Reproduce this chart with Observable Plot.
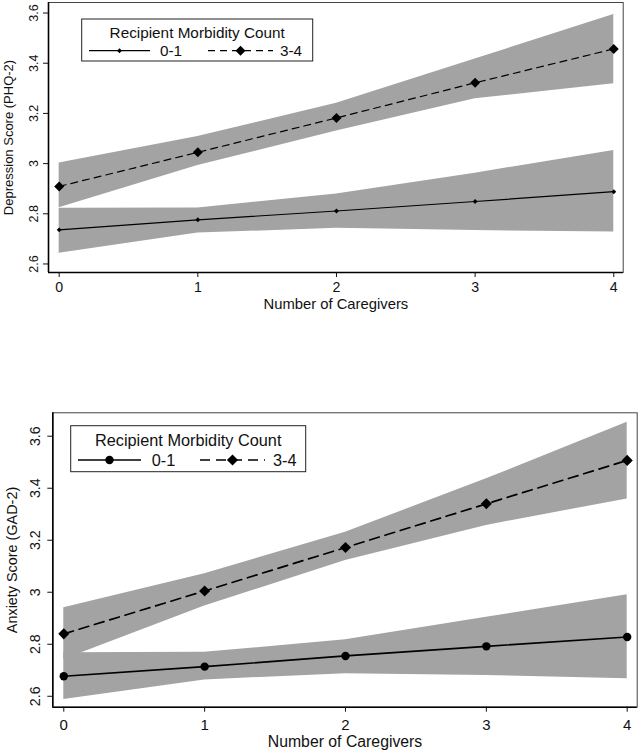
<!DOCTYPE html>
<html><head><meta charset="utf-8">
<script src="https://cdn.jsdelivr.net/npm/d3@7"></script>
<script src="https://cdn.jsdelivr.net/npm/@observablehq/plot@0.6"></script>
<style>
body{margin:0;background:#fff;}
#wrap{position:relative;width:640px;height:750px;overflow:hidden;background:#fff;}
#wrap > svg{position:absolute;left:0;}
</style></head><body><div id="wrap"></div>
<script>
// ---- data ----
const caregivers = [0, 1, 2, 3, 4];
const groups = ["0-1", "3-4"];
const legendTitle = "Recipient Morbidity Count";
const xLabel = "Number of Caregivers";
const yTicks = [2.6, 2.8, 3.0, 3.2, 3.4, 3.6];
const xTicks = [0, 1, 2, 3, 4];

// Depression (PHQ-2)
const phqLabel = "Depression Score (PHQ-2)";
const phqLow    = [2.736, 2.776, 2.811, 2.849, 2.888];
const phqLowLo  = [2.643, 2.723, 2.742, 2.733, 2.727];
const phqLowHi  = [2.822, 2.823, 2.879, 2.962, 3.052];
const phqHigh   = [2.909, 3.045, 3.182, 3.322, 3.457];
const phqHighLo = [2.824, 2.992, 3.130, 3.258, 3.318];
const phqHighHi = [3.002, 3.108, 3.240, 3.417, 3.594];

// Anxiety (GAD-2)
const gadLabel = "Anxiety Score (GAD-2)";
const gadLow    = [2.677, 2.714, 2.755, 2.792, 2.828];
const gadLowLo  = [2.588, 2.663, 2.687, 2.680, 2.667];
const gadLowHi  = [2.767, 2.769, 2.817, 2.904, 2.990];
const gadHigh   = [2.840, 3.005, 3.172, 3.340, 3.507];
const gadHighLo = [2.741, 2.947, 3.122, 3.257, 3.359];
const gadHighHi = [2.940, 3.071, 3.231, 3.436, 3.654];

const rows = (m, lo, hi, g) => caregivers.map((c, i) => ({x: c, y: m[i], lo: lo[i], hi: hi[i], group: g}));

const FONT = "'Liberation Sans', Arial, Helvetica, sans-serif";
const BAND = "#a3a3a3";
const INK = "#111";
const fmt = d => String(+d.toFixed(1));

function panel(cfg) {
  const low = rows(...cfg.low, groups[0]);
  const high = rows(...cfg.high, groups[1]);
  const [x0] = cfg.xDomain, [y0] = cfg.yDomain;
  const svg = Plot.plot({
    width: 640, height: cfg.height,
    marginLeft: cfg.ml, marginRight: cfg.mr, marginTop: cfg.mt, marginBottom: cfg.mb,
    style: {fontFamily: FONT, fontSize: "13px", color: INK, background: "white", overflow: "visible"},
    x: {domain: cfg.xDomain},
    y: {domain: cfg.yDomain},
    marks: [
      Plot.areaY(high, {x: "x", y1: "lo", y2: "hi", fill: BAND}),
      Plot.areaY(low, {x: "x", y1: "lo", y2: "hi", fill: BAND}),
      Plot.frame({stroke: "#444", strokeWidth: 1}),
      Plot.ruleX([x0], {stroke: "#000", strokeWidth: 1.6}),
      Plot.ruleY([y0], {stroke: "#000", strokeWidth: 1.6}),
      Plot.line(low, {x: "x", y: "y", stroke: "#000", strokeWidth: cfg.lw}),
      Plot.line(high, {x: "x", y: "y", stroke: "#000", strokeWidth: cfg.lw, strokeDasharray: cfg.dash}),
      Plot.dot(low, {x: "x", y: "y", symbol: cfg.lowSym, r: cfg.lowR, fill: "#000", stroke: "none"}),
      Plot.dot(high, {x: "x", y: "y", symbol: "diamond2", r: cfg.highR, fill: "#000", stroke: "none"}),
      Plot.axisX({ticks: xTicks, tickSize: 5, tickPadding: cfg.xPad, tickFormat: d => String(d),
        label: null, fontSize: cfg.fsXTick, fill: INK}),
      Plot.axisY({ticks: yTicks, tickSize: 5, tickPadding: cfg.yPad, tickRotate: -90, textAnchor: "middle",
        lineAnchor: "middle", tickFormat: fmt, label: null, fontSize: cfg.fsYTick, fill: INK}),
      Plot.text([xLabel], {text: d => d, frameAnchor: "bottom", textAnchor: "middle", lineAnchor: "middle",
        dy: cfg.xLabOff, fontSize: cfg.fsXLab, fill: INK}),
      Plot.text([cfg.ylabel], {text: d => d, frameAnchor: "left", rotate: -90, textAnchor: "middle",
        lineAnchor: "top", dx: -cfg.yLabOff, fontSize: cfg.fsYLab, fill: INK})
    ]
  });
  svg.style.top = cfg.top + "px";
  // legend
  const L = cfg.legend;
  const g = d3.select(svg).append("g").attr("font-family", FONT).style("font-size", cfg.fsLeg + "px");
  g.append("rect").attr("x", L.x).attr("y", L.y).attr("width", L.w).attr("height", L.h)
    .attr("fill", "white").attr("stroke", "#222").attr("stroke-width", 1);
  g.append("text").attr("x", L.x + L.w / 2).attr("y", L.titleY).attr("text-anchor", "middle")
    .attr("fill", INK).text(legendTitle);
  // entry 1
  g.append("line").attr("x1", L.l1[0]).attr("x2", L.l1[1]).attr("y1", L.rowY).attr("y2", L.rowY)
    .attr("stroke", "#000").attr("stroke-width", cfg.lw);
  const sym1 = cfg.lowSym === "circle" ? d3.symbolCircle : d3.symbolDiamond2;
  g.append("path").attr("d", d3.symbol(sym1, Math.PI * cfg.lowR * cfg.lowR)())
    .attr("transform", `translate(${(L.l1[0] + L.l1[1]) / 2},${L.rowY})`).attr("fill", "#000");
  g.append("text").attr("x", L.t1).attr("y", L.rowY).attr("dy", "0.36em").attr("text-anchor", "start")
    .attr("fill", INK).text(groups[0]);
  // entry 2
  g.append("line").attr("x1", L.l2[0]).attr("x2", L.l2[1]).attr("y1", L.rowY).attr("y2", L.rowY)
    .attr("stroke", "#000").attr("stroke-width", cfg.lw).attr("stroke-dasharray", cfg.dash);
  g.append("path").attr("d", d3.symbol(d3.symbolDiamond2, Math.PI * cfg.highR * cfg.highR)())
    .attr("transform", `translate(${(L.l2[0] + L.l2[1]) / 2},${L.rowY})`).attr("fill", "#000");
  g.append("text").attr("x", L.t2).attr("y", L.rowY).attr("dy", "0.36em").attr("text-anchor", "start")
    .attr("fill", INK).text(groups[1]);
  return svg;
}

const wrap = document.getElementById("wrap");
wrap.appendChild(panel({
  top: 0, height: 330, ml: 48, mr: 17.3, mt: 2, mb: 58,
  xDomain: [-0.077, 4.068], yDomain: [2.566, 3.642],
  low: [phqLow, phqLowLo, phqLowHi], high: [phqHigh, phqHighLo, phqHighHi],
  ylabel: phqLabel, lw: 1.2, dash: "7,5",
  fsXTick: 14.2, fsYTick: 12.5, fsXLab: 14.8, fsYLab: 13, fsLeg: 15.3,
  lowSym: "diamond2", lowR: 2.2, highR: 4.5,
  xPad: 4, yPad: 10, xLabOff: 31.5, yLabOff: 45,
  legend: {x: 81.7, y: 19, w: 231, h: 42, titleY: 37.5, rowY: 50.7, l1: [89, 150], t1: 160, l2: [208, 273], t2: 280}
}));
wrap.appendChild(panel({
  top: 380, height: 370, ml: 52.3, mr: 3.3, mt: 32.3, mb: 43.3,
  xDomain: [-0.078, 4.071], yDomain: [2.558, 3.69],
  low: [gadLow, gadLowLo, gadLowHi], high: [gadHigh, gadHighLo, gadHighHi],
  ylabel: gadLabel, lw: 1.7, dash: "10,6",
  fsXTick: 15, fsYTick: 14.2, fsXLab: 15.8, fsYLab: 14.4, fsLeg: 16.3,
  lowSym: "circle", lowR: 4.2, highR: 5,
  xPad: 7, yPad: 12, xLabOff: 34.8, yLabOff: 46,
  legend: {x: 70.7, y: 45.7, w: 235, h: 46, titleY: 65.5, rowY: 80, l1: [78, 141], t1: 151.7, l2: [200, 265], t2: 273}
}));
</script></body></html>
